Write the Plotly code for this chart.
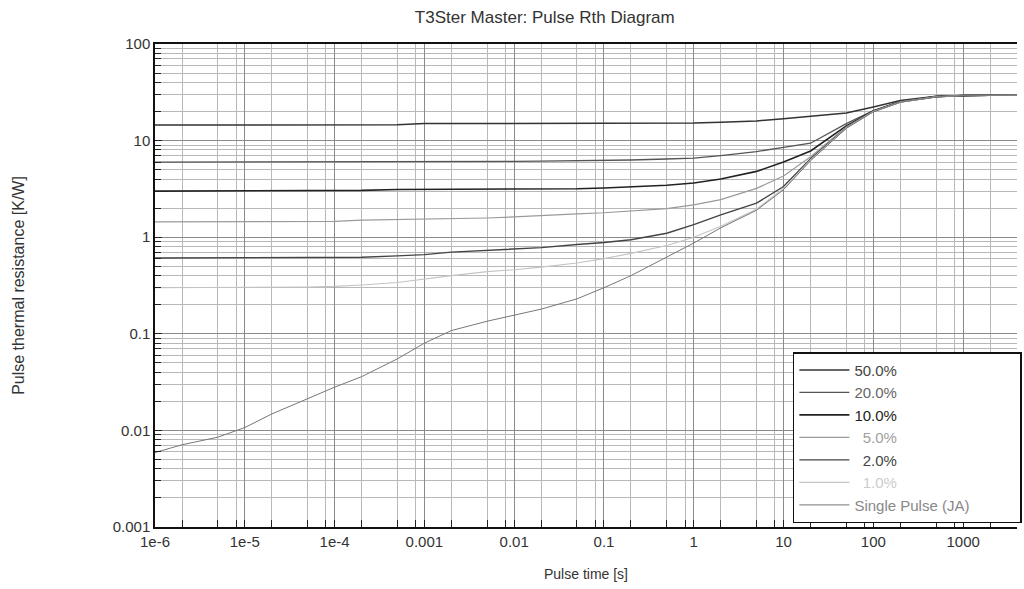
import plotly.graph_objects as go

# ---- data ----
pulse_time = [1e-6, 2e-6, 5e-6, 1e-5, 2e-5, 5e-5, 1e-4, 2e-4, 5e-4, 1e-3, 2e-3, 5e-3,
              1e-2, 2e-2, 5e-2, 0.1, 0.2, 0.5, 1, 2, 5, 10, 20, 50, 100, 200, 500,
              1000, 2000, 4000]

rth_50 = [14.5, 14.5, 14.5, 14.5, 14.5, 14.5, 14.5, 14.5, 14.6, 15.0, 15.0, 15.0,
          15.0, 15.0, 15.0, 15.0, 15.0, 15.1, 15.2, 15.5, 16.0, 16.8, 17.8, 19.3,
          22.3, 26.0, 28.7, 29.3, 29.5, 29.5]
rth_20 = [6.0, 6.0, 6.0, 6.0, 6.0, 6.0, 6.0, 6.0, 6.0, 6.0, 6.05, 6.1,
          6.1, 6.12, 6.15, 6.2, 6.3, 6.45, 6.6, 7.0, 7.7, 8.5, 9.4, 15.0,
          20.5, 25.5, 28.6, 29.3, 29.5, 29.5]
rth_10 = [3.0, 3.0, 3.0, 3.0, 3.0, 3.0, 3.0, 3.05, 3.12, 3.12, 3.12, 3.13,
          3.14, 3.15, 3.17, 3.23, 3.3, 3.45, 3.64, 4.0, 4.8, 6.0, 7.8, 14.2,
          20.3, 25.3, 28.5, 29.3, 29.5, 29.5]
rth_5 = [1.44, 1.44, 1.44, 1.44, 1.44, 1.44, 1.46, 1.50, 1.52, 1.53, 1.55, 1.58,
         1.62, 1.68, 1.74, 1.79, 1.86, 1.98, 2.16, 2.45, 3.2, 4.3, 6.8, 13.8,
         20.1, 25.2, 28.5, 29.3, 29.5, 29.5]
rth_2 = [0.61, 0.61, 0.61, 0.61, 0.61, 0.61, 0.61, 0.62, 0.64, 0.66, 0.70, 0.73,
         0.75, 0.78, 0.84, 0.88, 0.94, 1.1, 1.35, 1.7, 2.25, 3.35, 6.5, 13.6,
         20.0, 25.1, 28.4, 29.3, 29.5, 29.5]
rth_1 = [0.30, 0.30, 0.30, 0.30, 0.30, 0.305, 0.31, 0.32, 0.34, 0.37, 0.40, 0.44,
         0.46, 0.49, 0.54, 0.60, 0.68, 0.82, 1.0, 1.3, 1.95, 3.2, 6.3, 13.5,
         20.0, 25.0, 28.4, 29.3, 29.5, 29.5]
rth_single = [0.0059, 0.0071, 0.0085, 0.0107, 0.0148, 0.0215, 0.028, 0.036, 0.055,
              0.080, 0.108, 0.135, 0.155, 0.18, 0.23, 0.30, 0.40, 0.62, 0.87, 1.25,
              1.9, 3.1, 6.2, 13.4, 19.9, 25.0, 28.4, 29.3, 29.5, 29.5]

series_names = ["50.0%", "20.0%", "10.0%", "5.0%", "2.0%", "1.0%", "Single Pulse (JA)"]
series_values = [rth_50, rth_20, rth_10, rth_5, rth_2, rth_1, rth_single]

x_tick_vals = [1e-6, 1e-5, 1e-4, 1e-3, 1e-2, 1e-1, 1, 10, 100, 1000]
x_tick_text = ["1e-6", "1e-5", "1e-4", "0.001", "0.01", "0.1", "1", "10", "100", "1000"]
y_tick_vals = [0.001, 0.01, 0.1, 1, 10, 100]
y_tick_text = ["0.001", "0.01", "0.1", "1", "10", "100"]

# ---- styles ----
line_colors = ["#333333", "#555555", "#222222", "#9a9a9a", "#444444", "#c4c4c4", "#777777"]
line_widths = [1.5, 1.3, 1.6, 1.2, 1.4, 1.1, 1.0]
label_colors = ["#444444", "#666666", "#222222", "#a0a0a0", "#444444", "#cccccc", "#888888"]
NB = "\u00a0"
label_pre = ["", "", "", NB * 2, NB * 2, NB * 2, ""]
label_post = ["", "", "", "", "", "", NB * 11]

FONT = "Liberation Sans, Arial, sans-serif"

fig = go.Figure()
for name, vals, lc, lw, tc, pre, post in zip(series_names, series_values, line_colors,
                                             line_widths, label_colors, label_pre, label_post):
    fig.add_trace(go.Scatter(
        x=pulse_time, y=vals, mode="lines", legendgroup=name,
        name=f'<span style="color:{tc}">{pre}{name}{post}</span>',
        line=dict(color=lc, width=lw),
    ))

x_minor = [m * 10.0 ** e for e in range(-6, 4) for m in (2, 5, 8)]

fig.update_layout(
    width=1024, height=589,
    margin=dict(l=155, r=2, t=44, b=62),
    paper_bgcolor="white", plot_bgcolor="white",
    font=dict(family=FONT, size=15, color="#333333"),
    title=dict(text="T3Ster Master: Pulse Rth Diagram", x=0.532, xanchor="center",
               y=0.971, yanchor="middle", font=dict(size=17, color="#333333")),
    showlegend=True,
    legend=dict(x=0.740, y=0.362, xanchor="left", yanchor="top",
                bgcolor="white", bordercolor="#111111", borderwidth=1.5,
                font=dict(family=FONT, size=15), tracegroupgap=0,
                itemwidth=50, traceorder="normal"),
)

fig.update_xaxes(
    type="log", range=[-6, 3.6], automargin=False,
    tickvals=x_tick_vals, ticktext=x_tick_text,
    ticks="inside", ticklen=7, tickcolor="#222222",
    showline=True, linecolor="#111111", linewidth=1.5, mirror=True,
    showgrid=True, gridcolor="#8a8a8a", gridwidth=1,
    minor=dict(tickvals=x_minor, ticks="inside", ticklen=7, tickcolor="#222222",
               showgrid=True, gridcolor="#b8b8b8", gridwidth=1),
    zeroline=False,
    title=dict(text="Pulse time [s]", standoff=20, font=dict(size=14)),
)
fig.update_yaxes(
    type="log", range=[-3, 2], automargin=False,
    tickvals=y_tick_vals, ticktext=y_tick_text,
    ticks="inside", ticklen=7, tickcolor="#222222",
    showline=True, linecolor="#111111", linewidth=1.5,
    showgrid=True, gridcolor="#8a8a8a", gridwidth=1,
    minor=dict(dtick="D1", ticks="inside", ticklen=6, tickcolor="#222222",
               showgrid=True, gridcolor="#b8b8b8", gridwidth=1),
    zeroline=False,
    title=dict(text="Pulse thermal resistance [K/W]", standoff=84, font=dict(size=16)),
)

fig.write_html("out.html", config={"displayModeBar": False},
               post_script="document.body.style.margin='0px';")
